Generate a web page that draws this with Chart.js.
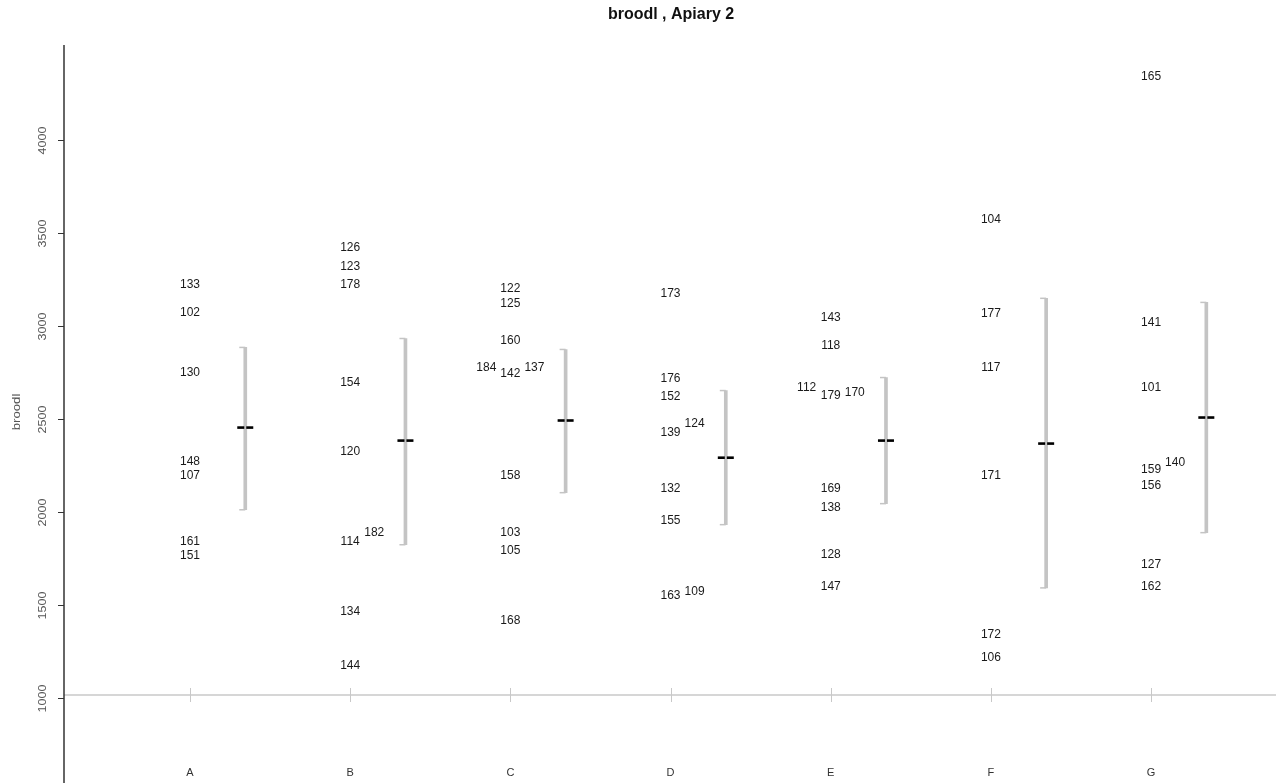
<!DOCTYPE html>
<html>
<head>
<meta charset="utf-8">
<script src="https://cdn.jsdelivr.net/npm/chart.js@4/dist/chart.umd.min.js"></script>
<style>
html,body{margin:0;padding:0;background:#fff;}
#wrap{width:1281px;height:783px;position:relative;}
</style>
</head>
<body>
<div id="wrap"><canvas id="c" width="1281" height="783"></canvas></div>
<script>
// ---- data ----
const title = "broodl , Apiary 2";
const yTitle = "broodl";
const groups = ["A","B","C","D","E","F","G"];
const yTicks = [1000,1500,2000,2500,3000,3500,4000];

const idsA = [133,102,130,148,107,161,151];
const valsA = [3229,3079,2755,2276,2201,1851,1775];
const idsB = [126,123,178,154,120,114,182,134,144];
const valsB = [3429,3326,3229,2702,2330,1851,1899,1474,1183];
const idsC = [122,125,160,184,142,137,158,103,105,168];
const valsC = [3208,3127,2928,2782,2750,2782,2201,1899,1802,1425];
const idsD = [173,176,152,124,139,132,155,163,109];
const valsD = [3181,2723,2626,2481,2432,2131,1959,1560,1582];
const idsE = [143,118,112,179,170,169,138,128,147];
const valsE = [3052,2901,2675,2632,2648,2131,2029,1781,1609];
const idsF = [104,177,117,171,172,106];
const valsF = [3579,3073,2782,2201,1350,1226];
const idsG = [165,141,101,159,140,156,127,162];
const valsG = [4349,3025,2675,2233,2271,2152,1727,1609];

const means = [2454,2384,2492,2292,2384,2368,2508];
const lows  = [2012,1824,2104,1932,2045,1592,1889];
const highs = [2885,2933,2874,2653,2723,3149,3127];

// ---- build ----
const allIds = [idsA,idsB,idsC,idsD,idsE,idsF,idsG];
const allVals = [valsA,valsB,valsC,valsD,valsE,valsF,valsG];
const BAR_SHIFT = 0.345;      // error bar offset from group centre (x units)
const COL_SHIFT = 0.15;       // label dodge offset (x units)
const DODGE = 60;             // values closer than this are dodged

const labelPoints = [];
allVals.forEach((vals, g) => {
  const items = vals.map((v,i)=>({v, id: allIds[g][i]}));
  items.sort((a,b)=> a.v - b.v || a.id - b.id);
  const last = {0: -1e9, 1: -1e9, "-1": -1e9};
  items.forEach(it => {
    let col = 0;
    if (it.v - last[0] < DODGE) {
      col = (it.v - last[1] < DODGE) ? -1 : 1;
    }
    last[col] = it.v;
    labelPoints.push({x: g + 1 + col*COL_SHIFT, y: it.v, id: it.id});
  });
});

const barData = groups.map((g,i)=>({x: i + 1 + BAR_SHIFT, y: [lows[i], highs[i]]}));
const meanData = groups.map((g,i)=>({x: i + 1 + BAR_SHIFT, y: means[i]}));

const FONT = "'Liberation Sans', Arial, sans-serif";

function rotText(ctx, txt, x, y, stretch) {
  ctx.save();
  ctx.translate(x, y);
  ctx.rotate(-Math.PI/2);
  ctx.scale(stretch, 1);
  ctx.textAlign = 'center'; ctx.textBaseline = 'middle';
  ctx.fillText(txt, 0, 0);
  ctx.restore();
}

const drawPlugin = {
  id: 'rstyle',
  beforeDatasetsDraw(chart) {
    const ctx = chart.ctx, xs = chart.scales.x, ys = chart.scales.y, ca = chart.chartArea;
    ctx.save();
    const yb = ys.getPixelForValue(1000) - 3;
    ctx.strokeStyle = '#c8c8c8';
    ctx.lineWidth = 1.5;
    ctx.beginPath(); ctx.moveTo(ca.left, yb); ctx.lineTo(ca.right, yb); ctx.stroke();
    ctx.lineWidth = 1;
    groups.forEach((g,i)=>{
      const x = Math.round(xs.getPixelForValue(i+1)) + 0.5;
      ctx.beginPath(); ctx.moveTo(x, yb-7); ctx.lineTo(x, yb+7); ctx.stroke();
    });
    ctx.restore();
  },
  afterDatasetsDraw(chart) {
    const ctx = chart.ctx, xs = chart.scales.x, ys = chart.scales.y, ca = chart.chartArea;
    ctx.save();
    // error bar caps (left side)
    ctx.strokeStyle = '#c4c4c4';
    ctx.lineWidth = 1.5;
    barData.forEach(d=>{
      const x = xs.getPixelForValue(d.x);
      [d.y[0], d.y[1]].forEach(v=>{
        const y = ys.getPixelForValue(v);
        ctx.beginPath(); ctx.moveTo(x-6, y); ctx.lineTo(x, y); ctx.stroke();
      });
    });
    // mean marks (black dashed)
    ctx.fillStyle = '#000';
    meanData.forEach(d=>{
      const x = xs.getPixelForValue(d.x), y = ys.getPixelForValue(d.y);
      ctx.fillRect(x-8, y-1.3, 7, 2.6);
      ctx.fillRect(x+1, y-1.3, 7, 2.6);
    });
    // id labels
    ctx.fillStyle = '#1a1a1a';
    ctx.font = '12px ' + FONT;
    ctx.textAlign = 'center';
    ctx.textBaseline = 'middle';
    labelPoints.forEach(p=>{
      ctx.fillText(String(p.id), xs.getPixelForValue(p.x), ys.getPixelForValue(p.y) + 1.5);
    });
    // y axis line
    ctx.strokeStyle = '#333';
    ctx.lineWidth = 1.5;
    ctx.beginPath(); ctx.moveTo(ca.left, ca.top); ctx.lineTo(ca.left, ca.bottom); ctx.stroke();
    // y ticks + rotated labels
    ctx.lineWidth = 1;
    ctx.fillStyle = '#555';
    ctx.font = '10px ' + FONT;
    yTicks.forEach(t=>{
      const y = Math.round(ys.getPixelForValue(t)) + 0.5;
      ctx.beginPath(); ctx.moveTo(ca.left-6, y); ctx.lineTo(ca.left, y); ctx.stroke();
      rotText(ctx, String(t), ca.left-21, y, 1.25);
    });
    // y title
    ctx.font = '11px ' + FONT;
    rotText(ctx, yTitle, 17, 412, 1.2);
    // group labels
    ctx.fillStyle = '#333';
    ctx.font = '11px ' + FONT;
    ctx.textAlign = 'center'; ctx.textBaseline = 'middle';
    groups.forEach((g,i)=>{
      ctx.fillText(g, xs.getPixelForValue(i+1), 773);
    });
    // title
    ctx.fillStyle = '#111';
    ctx.font = 'bold 16px ' + FONT;
    ctx.fillText(title, 671, 15);
    ctx.restore();
  }
};

new Chart(document.getElementById('c'), {
  data: {
    datasets: [
      {type: 'bar', data: barData, backgroundColor: '#c4c4c4', borderWidth: 0, barThickness: 3},
      {type: 'scatter', data: meanData, pointRadius: 0, showLine: false},
      {type: 'scatter', data: labelPoints, pointRadius: 0, showLine: false}
    ]
  },
  options: {
    responsive: false,
    animation: false,
    devicePixelRatio: 1,
    layout: {padding: {left: 64, right: 5, top: 45, bottom: 0}},
    plugins: {legend: {display: false}, tooltip: {enabled: false}, title: {display: false}},
    scales: {
      x: {type: 'linear', min: 0.2133, max: 7.780, display: false, offset: false},
      y: {type: 'linear', min: 543, max: 4511, display: false}
    }
  },
  plugins: [drawPlugin]
});
</script>
</body>
</html>
